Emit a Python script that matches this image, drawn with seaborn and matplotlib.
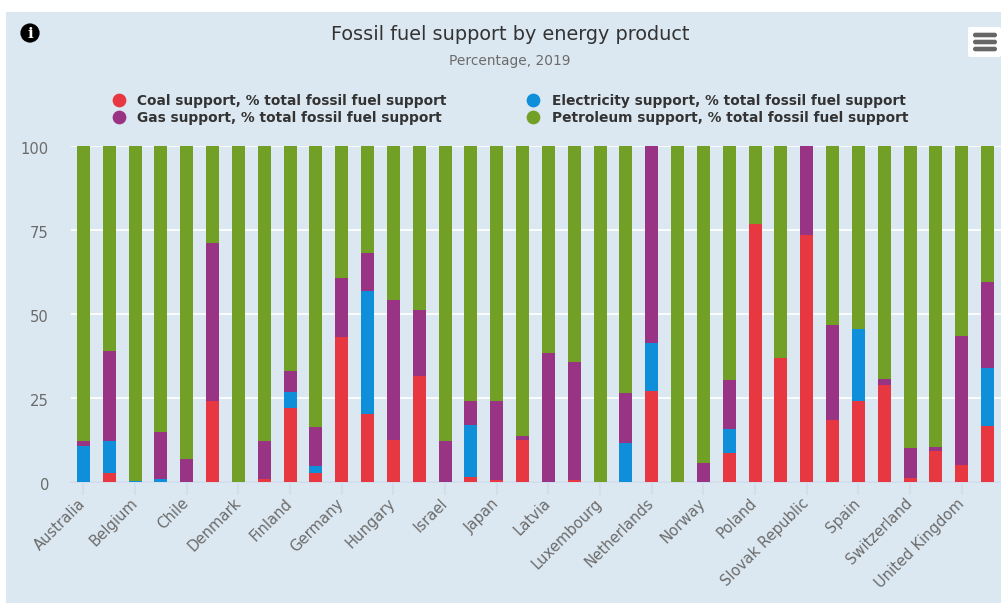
import matplotlib
matplotlib.use("Agg")
import matplotlib.pyplot as plt
from matplotlib.lines import Line2D
from matplotlib.patches import Circle, FancyBboxPatch, Rectangle
from matplotlib.transforms import ScaledTranslation
import numpy as np
import pandas as pd
import seaborn as sns

countries = ["Australia", "Austria", "Belgium", "Canada", "Chile", "Czech Republic", "Denmark", "Estonia",
             "Finland", "France", "Germany", "Greece", "Hungary", "Ireland", "Israel", "Italy", "Japan",
             "Korea", "Latvia", "Lithuania", "Luxembourg", "Mexico", "Netherlands", "New Zealand", "Norway",
             "OECD - Average", "Poland", "Portugal", "Slovak Republic", "Slovenia", "Spain", "Sweden",
             "Switzerland", "Turkey", "United Kingdom", "United States"]
coal = [0, 2.7, 0, 0, 0, 24.1, 0, 0.9, 22.0, 2.7, 43.2, 20.3, 12.5, 31.5, 0, 1.5, 0.6, 12.5, 0, 0.6, 0, 0,
        27.1, 0, 0, 8.6, 76.9, 36.9, 73.5, 18.5, 24.1, 28.9, 1.2, 9.2, 5.1, 16.8]
electricity = [10.7, 9.5, 0.3, 0.9, 0, 0, 0, 0, 4.8, 2.1, 0, 36.5, 0, 0, 0, 15.5, 0, 0, 0, 0, 0, 11.6,
               14.3, 0, 0, 7.2, 0, 0, 0, 0, 21.4, 0, 0, 0, 0, 17.1]
gas = [1.5, 26.8, 0, 14.0, 6.8, 47.0, 0, 11.3, 6.2, 11.6, 17.5, 11.4, 41.7, 19.7, 12.2, 7.1, 23.5, 1.2, 38.4,
       35.1, 0, 14.9, 58.6, 0, 5.7, 14.6, 0, 0, 26.5, 28.2, 0, 1.8, 8.9, 1.2, 38.4, 25.6]
petroleum = [87.8, 61.0, 99.7, 85.1, 93.2, 28.9, 100, 87.8, 67.0, 83.6, 39.3, 31.8, 45.8, 48.8, 87.8, 75.9, 75.9,
             86.3, 61.6, 64.3, 100, 73.5, 0, 100, 94.3, 69.6, 23.1, 63.1, 0, 53.3, 54.5, 69.3, 89.9, 89.6, 56.5, 40.5]
series_names = ["Coal support, % total fossil fuel support",
                "Electricity support, % total fossil fuel support",
                "Gas support, % total fossil fuel support",
                "Petroleum support, % total fossil fuel support"]
series_colors = ["#E73741", "#0F8FD9", "#993484", "#729F25"]
y_ticks = [0, 25, 50, 75, 100]
title = "Fossil fuel support by energy product"
subtitle = "Percentage, 2019"

W, H = 1001, 604
BG = "#DCE8F1"
sns.set_theme(style="white")
plt.rcParams["font.family"] = ["DejaVu Sans"]

fig = plt.figure(figsize=(W / 100, H / 100), dpi=100, facecolor="white")

# pixel-space backdrop
bg = fig.add_axes([0, 0, 1, 1], zorder=0)
bg.set_xlim(0, W)
bg.set_ylim(H, 0)
bg.axis("off")
bg.add_patch(Rectangle((6, 12), W - 6, 591, fc=BG, ec="none"))

ax = fig.add_axes([70.5 / W, 1 - 482 / H, 930 / W, 336 / H], zorder=1)
ax.patch.set_alpha(0)

df = pd.DataFrame({"country": countries, "coal": coal, "electricity": electricity,
                   "gas": gas, "petroleum": petroleum})
bottom = np.zeros(len(df))
for col, name, color in zip(["coal", "electricity", "gas", "petroleum"], series_names, series_colors):
    sns.barplot(data=df, x="country", y=col, color=color, width=0.503, bottom=bottom,
                saturation=1, ax=ax, zorder=3, linewidth=0, order=countries)
    bottom = bottom + df[col].to_numpy()

ax.set_xlim(-0.5, len(countries) - 0.5)
ax.set_ylim(0, 100)
ax.set_xlabel("")
ax.set_ylabel("")
ax.set_yticks(y_ticks)
ax.set_yticklabels([str(v) for v in y_ticks], fontsize=10.6, color="#6b6b6b")
ax.set_xticks(range(0, len(countries), 2))
ax.set_xticklabels(countries[::2], rotation=45, ha="right", rotation_mode="anchor",
                   fontsize=10.6, color="#6b6b6b")
ax.tick_params(axis="x", length=9.4, width=1.5, color="#D3DDEC", pad=3, bottom=True)
ax.tick_params(axis="y", length=0, pad=15.5, left=False)
ax.grid(axis="y", color="white", linewidth=1.2, zorder=1)
ax.grid(axis="x", visible=False)
ax.set_axisbelow(True)
for side in ["top", "right", "left"]:
    ax.spines[side].set_visible(False)
ax.spines["bottom"].set_color("#D3DDEC")
ax.spines["bottom"].set_linewidth(1.3)
ax.spines["bottom"].set_zorder(2)

# nudge tick labels (pixels -> inches at dpi 100)
for lab in ax.get_xticklabels():
    lab.set_transform(lab.get_transform() + ScaledTranslation(-5.5 / 100, 3.5 / 100, fig.dpi_scale_trans))
for lab in ax.get_yticklabels():
    lab.set_transform(lab.get_transform() + ScaledTranslation(0, -1.5 / 100, fig.dpi_scale_trans))

fig.text(510 / W, 1 - 35 / H, title, ha="center", va="center", fontsize=13.9, color="#333333")
fig.text(510 / W, 1 - 60.5 / H, subtitle, ha="center", va="center", fontsize=9.95, color="#6b6b6b")

handles = [Line2D([], [], ls="none", marker="o", ms=9.9, mfc=c, mec="none") for c in series_colors]
order = [0, 2, 1, 3]
leg = fig.legend([handles[i] for i in order], [series_names[i] for i in order], ncol=2,
                 loc="upper left", bbox_to_anchor=(104.9 / W, 1 - 94.3 / H), frameon=False,
                 prop={"size": 9.93, "weight": "bold"}, labelcolor="#333333",
                 labelspacing=0.16, handletextpad=0.35, columnspacing=5.28, borderpad=0, borderaxespad=0,
                 handlelength=2)

# info and menu icons
fg = fig.add_axes([0, 0, 1, 1], zorder=2)
fg.set_xlim(0, W)
fg.set_ylim(H, 0)
fg.axis("off")
fg.add_patch(Circle((30, 33), 9.6, fc="black", ec="none"))
fg.text(30, 33.5, "i", color="white", ha="center", va="center", fontsize=11, weight="bold", family="DejaVu Serif")
fg.add_patch(FancyBboxPatch((968, 27), 33, 30, boxstyle="round,pad=0,rounding_size=2", fc="white", ec="none"))
for yy in (35, 42, 49):
    fg.add_patch(FancyBboxPatch((973, yy - 2.3), 24, 4.6, boxstyle="round,pad=0,rounding_size=2.3",
                                fc="#666666", ec="none"))

fig.savefig("out.png", dpi=100)
